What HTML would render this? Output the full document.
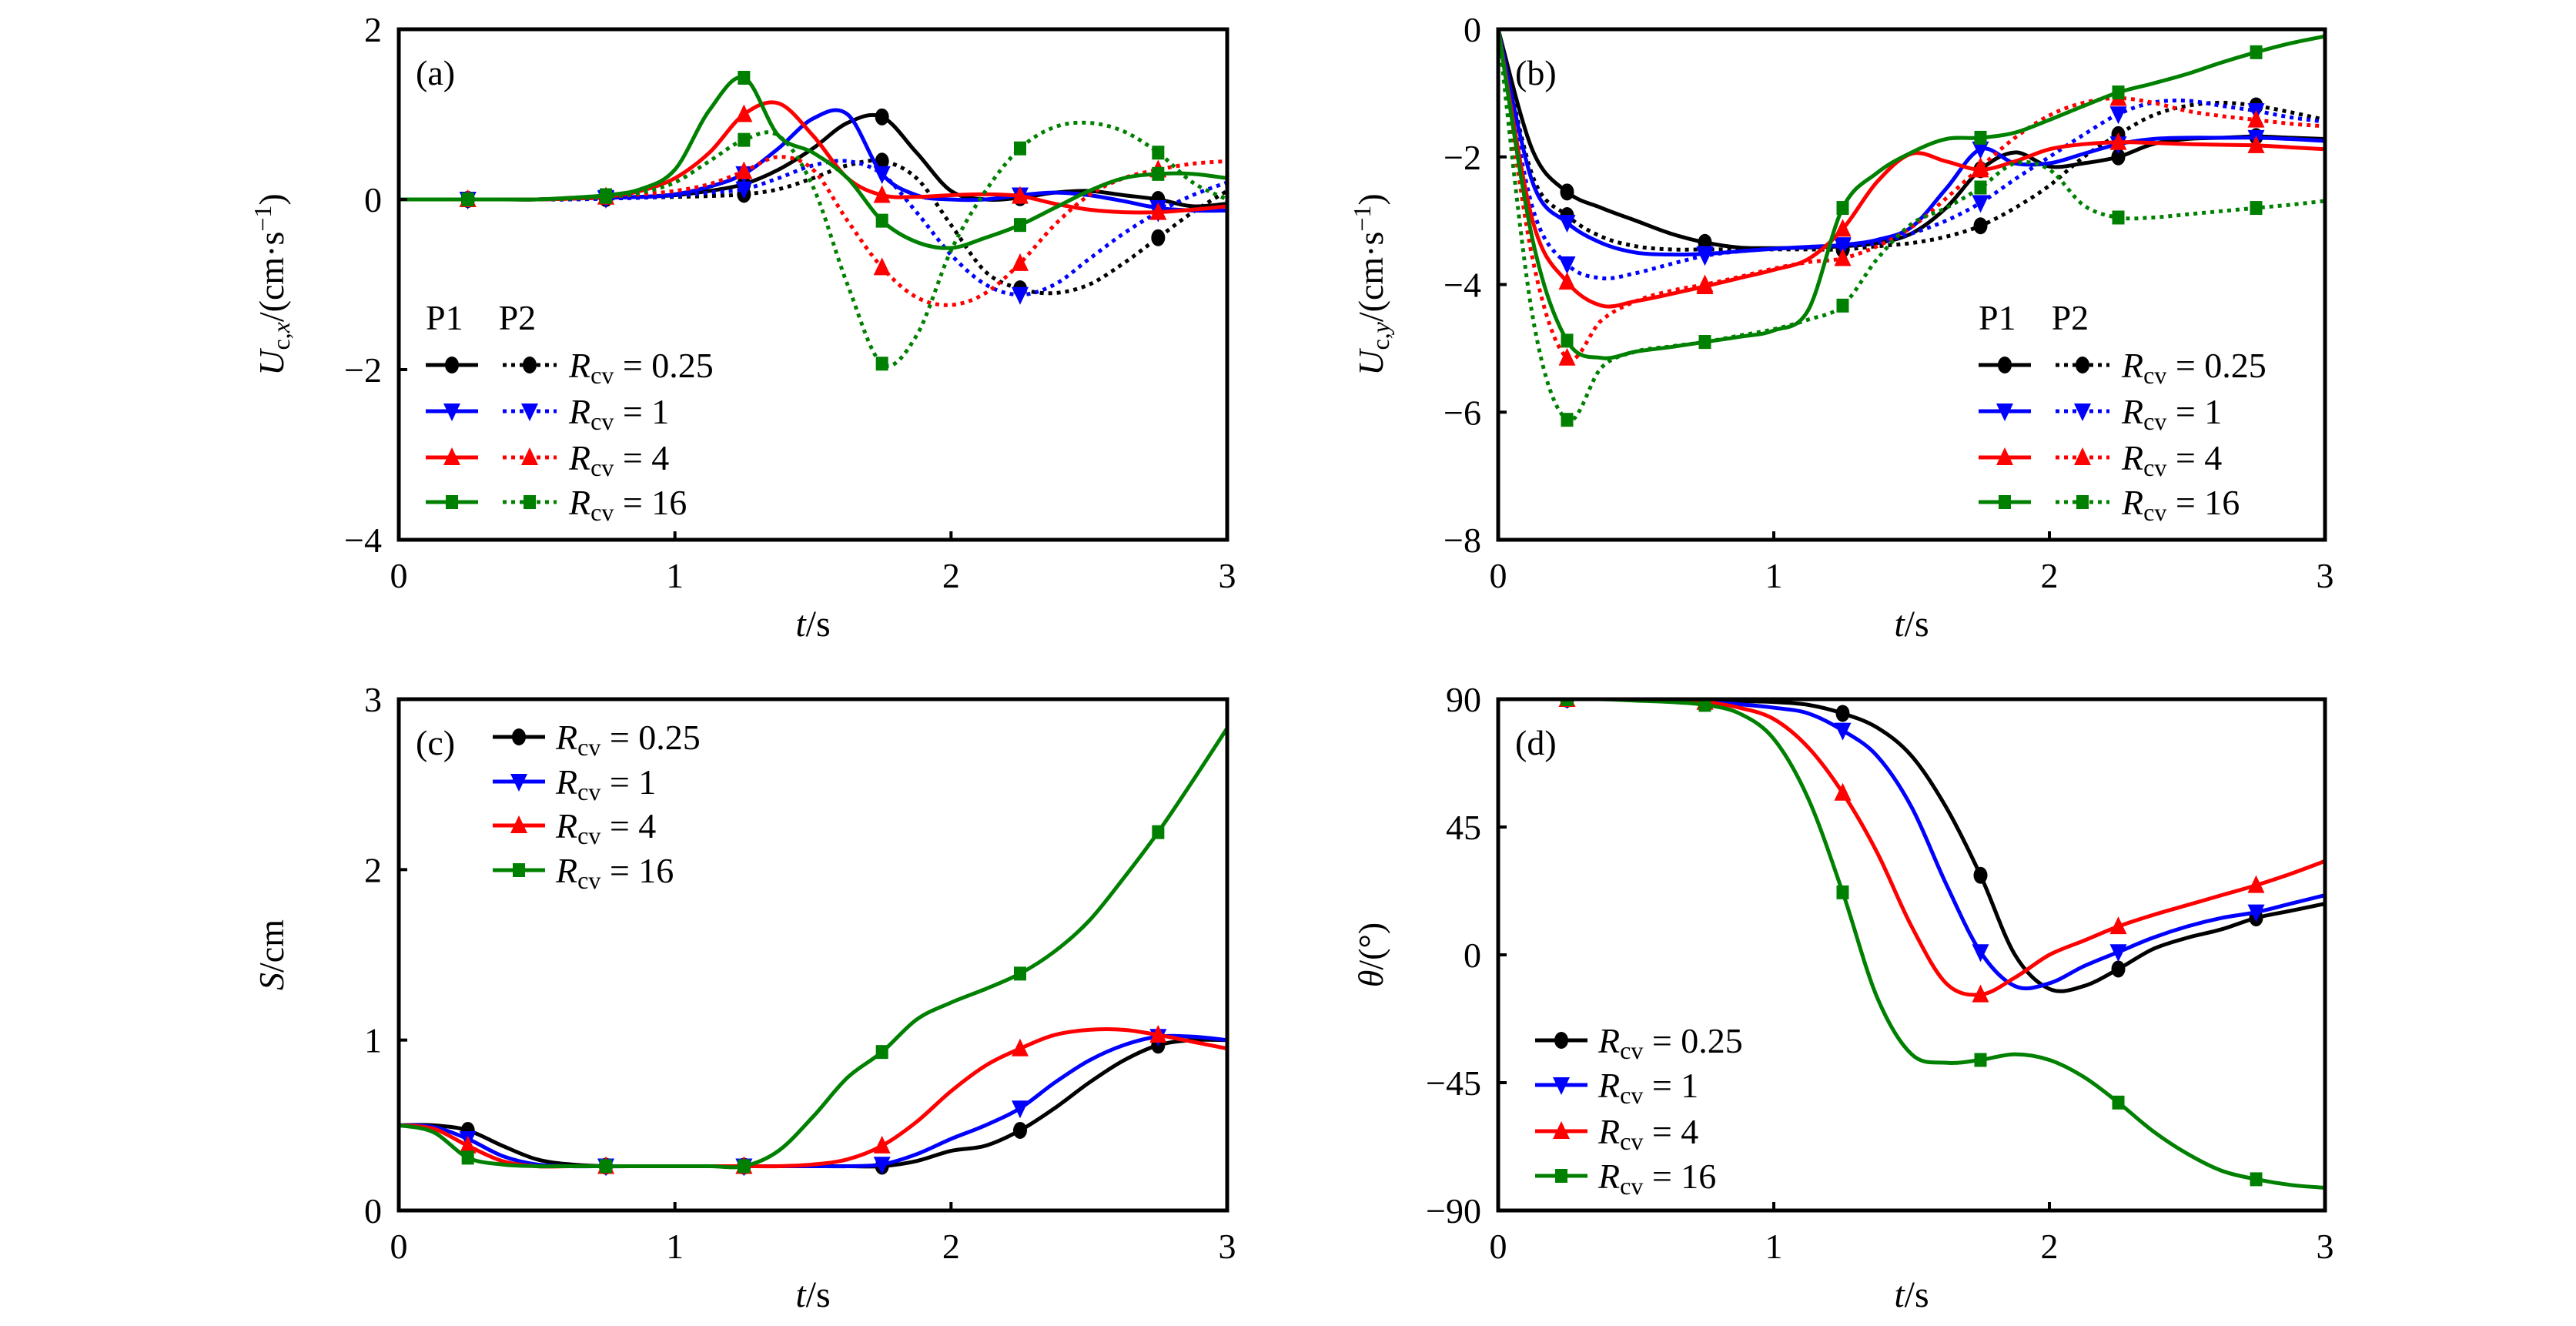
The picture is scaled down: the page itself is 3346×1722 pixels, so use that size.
<!DOCTYPE html>
<html><head><meta charset="utf-8"><style>
html,body{margin:0;padding:0;background:#fff;}
svg{display:block;font-family:"Liberation Serif",serif;}
</style></head><body>
<svg id="fig" width="3346" height="1722" viewBox="0 0 3346 1722" xmlns="http://www.w3.org/2000/svg"></svg>
<script>
const tVals=[0,0.125,0.25,0.375,0.5,0.625,0.75,0.875,1,1.125,1.25,1.375,1.5,1.625,1.75,1.875,2,2.125,2.25,2.375,2.5,2.625,2.75,2.875,3];
const markerIdx=[2,6,10,14,18,22];
// Panel a: Uc,x
const aBlackP1=[0,0,0,0,0,0.01,0.02,0.03,0.05,0.1,0.18,0.35,0.6,0.9,0.97,0.55,0.1,0.0,0.02,0.08,0.1,0.05,0.0,-0.08,-0.05];
const aBlackP2=[0,0,0,0,0,0,0.01,0.02,0.03,0.04,0.06,0.12,0.25,0.4,0.45,0.25,-0.3,-0.85,-1.05,-1.1,-1.0,-0.75,-0.45,-0.15,0.1];
const aBlueP1=[0,0,0,0,0,0.01,0.02,0.03,0.06,0.15,0.3,0.6,0.95,1.0,0.3,0.05,0.0,0.0,0.05,0.08,0.05,-0.02,-0.1,-0.13,-0.13];
const aBlueP2=[0,0,0,0,0,0,0.01,0.02,0.04,0.08,0.12,0.25,0.4,0.45,0.3,-0.15,-0.65,-1.0,-1.12,-1.0,-0.7,-0.4,-0.15,0.05,0.2];
const aRedP1=[0,0,0,0,0,0.01,0.03,0.1,0.25,0.55,1.0,1.13,0.75,0.25,0.05,0.03,0.05,0.06,0.04,-0.05,-0.12,-0.15,-0.15,-0.12,-0.08];
const aRedP2=[0,0,0,0,0,0.01,0.03,0.06,0.1,0.18,0.33,0.5,0.35,-0.25,-0.8,-1.15,-1.24,-1.1,-0.75,-0.3,0.05,0.25,0.35,0.42,0.45];
const aGreenP1=[0,0,0,0,0,0.02,0.05,0.12,0.35,1.05,1.43,0.75,0.55,0.25,-0.25,-0.5,-0.57,-0.45,-0.3,-0.1,0.1,0.25,0.3,0.3,0.25];
const aGreenP2=[0,0,0,0,0,0.01,0.03,0.08,0.2,0.45,0.7,0.75,0.15,-1.0,-1.93,-1.6,-0.6,0.1,0.6,0.85,0.9,0.8,0.55,0.2,0.0];
// Panel b: Uc,y
const bBlackP1=[0,-1.9,-2.55,-2.8,-3.0,-3.2,-3.34,-3.42,-3.43,-3.42,-3.4,-3.35,-3.2,-2.8,-2.2,-1.93,-2.15,-2.1,-2.0,-1.8,-1.72,-1.7,-1.68,-1.7,-1.72];
const bBlackP2=[0,-2.3,-2.92,-3.25,-3.4,-3.45,-3.45,-3.45,-3.45,-3.45,-3.45,-3.4,-3.35,-3.25,-3.08,-2.8,-2.45,-2.0,-1.65,-1.35,-1.2,-1.15,-1.2,-1.3,-1.42];
const bBlueP1=[0,-2.4,-3.03,-3.35,-3.5,-3.53,-3.52,-3.48,-3.44,-3.41,-3.38,-3.3,-3.1,-2.5,-1.88,-2.1,-2.1,-1.95,-1.8,-1.72,-1.7,-1.7,-1.7,-1.72,-1.75];
const bBlueP2=[0,-2.8,-3.68,-3.9,-3.82,-3.68,-3.55,-3.48,-3.44,-3.42,-3.4,-3.35,-3.2,-3.0,-2.72,-2.35,-2.0,-1.65,-1.33,-1.15,-1.12,-1.2,-1.28,-1.38,-1.45];
const bRedP1=[0,-3.0,-3.96,-4.33,-4.26,-4.15,-4.03,-3.9,-3.77,-3.6,-3.13,-2.39,-1.95,-2.07,-2.2,-2.07,-1.88,-1.8,-1.77,-1.78,-1.8,-1.81,-1.82,-1.85,-1.88];
const bRedP2=[0,-3.6,-5.15,-4.56,-4.26,-4.1,-4.0,-3.88,-3.75,-3.65,-3.59,-3.4,-3.1,-2.65,-2.16,-1.7,-1.35,-1.15,-1.08,-1.15,-1.28,-1.36,-1.42,-1.48,-1.52];
const bGreenP1=[0,-3.3,-4.88,-5.15,-5.05,-4.98,-4.9,-4.82,-4.72,-4.4,-2.8,-2.25,-1.93,-1.72,-1.7,-1.62,-1.42,-1.2,-0.99,-0.85,-0.7,-0.52,-0.36,-0.22,-0.11];
const bGreenP2=[0,-4.5,-6.12,-5.3,-5.05,-4.97,-4.9,-4.8,-4.7,-4.55,-4.33,-3.6,-3.05,-2.8,-2.48,-2.1,-2.2,-2.76,-2.95,-2.95,-2.9,-2.85,-2.8,-2.75,-2.69];
// Panel c: S
const cBlack=[0.5,0.5,0.47,0.38,0.3,0.27,0.26,0.26,0.26,0.26,0.26,0.26,0.26,0.26,0.26,0.29,0.35,0.38,0.47,0.6,0.75,0.88,0.97,1.0,1.0];
const cBlue=[0.5,0.49,0.42,0.32,0.27,0.26,0.26,0.26,0.26,0.26,0.26,0.26,0.26,0.26,0.27,0.33,0.42,0.5,0.6,0.75,0.88,0.97,1.02,1.02,1.0];
const cRed=[0.5,0.48,0.38,0.29,0.26,0.26,0.26,0.26,0.26,0.26,0.26,0.26,0.27,0.3,0.38,0.52,0.7,0.85,0.95,1.03,1.06,1.06,1.03,0.99,0.95];
const cGreen=[0.5,0.46,0.31,0.27,0.26,0.26,0.26,0.26,0.26,0.26,0.26,0.35,0.55,0.78,0.93,1.12,1.22,1.3,1.39,1.52,1.7,1.95,2.22,2.52,2.83];
// Panel d: theta
const dBlack=[90,90,90,90,90,89.8,89.5,89.3,89,88,85,80,70,52,28,0,-12,-11,-5,2,6,9,13,15.5,18];
const dBlue=[90,90,90,90,90,89.7,89,88.2,87,85,79,70,52,25,1,-11,-10,-4,1,6,10,13,15,18,21];
const dRed=[90,90,90,90,90,89.7,89,87,83,73,57,36,10,-10,-14,-8,0,5,10,14,17.5,21,24.5,28.5,33];
const dGreen=[90,90,90,90,89.5,89,88,85,76,55,22,-15,-35,-38,-37,-35,-37,-43,-52,-62,-70,-76,-79,-81,-82];

const xTicks=[0,1,2,3];
const aTicks=[-4,-2,0,2];
const bTicks=[-8,-6,-4,-2,0];
const cTicks=[0,1,2,3];
const dTicks=[-90,-45,0,45,90];
const legendLabels=["0.25","1","4","16"];

const NS="http://www.w3.org/2000/svg";
const svg=document.getElementById('fig');
function mk(tag,attrs,parent){const e=document.createElementNS(NS,tag);for(const k in attrs)e.setAttribute(k,attrs[k]);(parent||svg).appendChild(e);return e;}
const COLORS=["#000000","#0000ff","#ff0000","#008000"];
const MARKS=["circle","tri-down","tri-up","square"];

function marker(g,type,x,y,color,name){
  let e;
  if(type==="circle"){e=mk('ellipse',{cx:x,cy:y,rx:9,ry:11,fill:color},g);}
  else if(type==="square"){e=mk('rect',{x:x-8,y:y-9,width:16,height:18,fill:color},g);}
  else if(type==="tri-up"){e=mk('polygon',{points:`${x},${y-13} ${x-11},${y+10} ${x+11},${y+10}`,fill:color},g);}
  else {e=mk('polygon',{points:`${x},${y+13} ${x-11},${y-10} ${x+11},${y-10}`,fill:color},g);}
  
  
  return e;
}
function smoothPath(pts){
  let d=`M${pts[0][0]},${pts[0][1]}`;
  for(let i=0;i<pts.length-1;i++){
    const p0=pts[i-1]||pts[i],p1=pts[i],p2=pts[i+1],p3=pts[i+2]||pts[i+1];
    const c1=[p1[0]+(p2[0]-p0[0])/6,p1[1]+(p2[1]-p0[1])/6];
    const c2=[p2[0]-(p3[0]-p1[0])/6,p2[1]-(p3[1]-p1[1])/6];
    d+=` C${c1[0]},${c1[1]} ${c2[0]},${c2[1]} ${p2[0]},${p2[1]}`;
  }
  return d;
}
function panel(o){
  const g=mk('g',{});
  
  
  const X=t=>o.x0+(t-0)/3*(o.x1-o.x0);
  const Y=v=>o.y1-(v-o.ymin)/(o.ymax-o.ymin)*(o.y1-o.y0);
  const clip='clip-'+o.name;
  const cp=mk('clipPath',{id:clip},g);mk('rect',{x:o.x0,y:o.y0,width:o.x1-o.x0,height:o.y1-o.y0},cp);
  const sg=mk('g',{'clip-path':`url(#${clip})`},g);
  o.series.forEach(s=>{
    const pts=s.data.map((v,i)=>[X(tVals[i]),Y(v)]);
    const p=mk('path',{d:smoothPath(pts),fill:'none',stroke:s.color,'stroke-width':5,'stroke-dasharray':s.dotted?'5 6':'none'},sg);
    
    
    markerIdx.forEach(i=>marker(sg,s.mark,X(tVals[i]),Y(s.data[i]),s.color,s.name+'-marker'));
  });
  const fr=mk('rect',{x:o.x0,y:o.y0,width:o.x1-o.x0,height:o.y1-o.y0,fill:'none',stroke:'#000','stroke-width':5},g);
  
  
  xTicks.forEach(t=>{
    mk('line',{x1:X(t),x2:X(t),y1:o.y1,y2:o.y1-11,stroke:'#000','stroke-width':4},g);
    const tx=mk('text',{x:X(t),y:o.y1+62,'font-size':46,'text-anchor':'middle'},g);tx.textContent=t;
    
    
  });
  o.yTicks.forEach(v=>{
    mk('line',{x1:o.x0,x2:o.x0+11,y1:Y(v),y2:Y(v),stroke:'#000','stroke-width':4},g);
    const tx=mk('text',{x:o.x0-22,y:Y(v)+16,'font-size':46,'text-anchor':'end'},g);tx.textContent=(v<0?'\u2212'+(-v):v);
    
    
  });
  const xt=mk('text',{x:(o.x0+o.x1)/2,y:o.y1+125,'font-size':48,'text-anchor':'middle'},g);
  xt.innerHTML='<tspan font-style="italic">t</tspan>/s';
  
  
  const yt=mk('text',{x:0,y:0,'font-size':46,'text-anchor':'middle',transform:`translate(${o.x0-150},${(o.y0+o.y1)/2}) rotate(-90)`},g);
  yt.innerHTML=o.ytitle;
  
  
  const pl=mk('text',{x:o.x0+22,y:o.y0+72,'font-size':46},g);pl.textContent=o.label;
  
  
  const L=o.legend;
  if(L.header){
    const h=mk('text',{x:L.x,y:L.headerY,'font-size':46},g);h.textContent='P1\u2003P2';
    
    
  }
  legendLabels.forEach((lab,i)=>{
    const y=L.ys[i];
    const lg=mk('g',{},g);
    
    
    mk('line',{x1:L.x,x2:L.x+68,y1:y,y2:y,stroke:COLORS[i],'stroke-width':5},lg);
    marker(lg,MARKS[i],L.x+34,y,COLORS[i],'legend-marker');
    let tx=L.x+82;
    if(L.header){
      mk('line',{x1:L.x+100,x2:L.x+170,y1:y,y2:y,stroke:COLORS[i],'stroke-width':5,'stroke-dasharray':'5 6'},lg);
      marker(lg,MARKS[i],L.x+135,y,COLORS[i],'legend-marker');
      tx=L.x+186;
    }
    const t=mk('text',{x:tx,y:y+16,'font-size':46},lg);
    t.innerHTML=`<tspan font-style="italic">R</tspan><tspan font-size="32" dy="8">cv</tspan><tspan dy="-8"> = ${lab}</tspan>`;
  });
}
panel({name:'panel-a',x0:518,x1:1594,y0:38,y1:701,ymin:-4,ymax:2,yTicks:aTicks,label:'(a)',
  ytitle:'<tspan font-style="italic">U</tspan><tspan font-size="32" dy="8">c,<tspan font-style="italic">x</tspan></tspan><tspan dy="-8">/(cm·s</tspan><tspan font-size="32" dy="-16">−1</tspan><tspan dy="16">)</tspan>',
  legend:{header:true,x:553,headerY:428,ys:[474,534,594,652]},
  series:[
   {name:'a-p1-rcv-0.25',data:aBlackP1,color:COLORS[0],mark:MARKS[0]},{name:'a-p2-rcv-0.25',data:aBlackP2,color:COLORS[0],mark:MARKS[0],dotted:1},
   {name:'a-p1-rcv-1',data:aBlueP1,color:COLORS[1],mark:MARKS[1]},{name:'a-p2-rcv-1',data:aBlueP2,color:COLORS[1],mark:MARKS[1],dotted:1},
   {name:'a-p1-rcv-4',data:aRedP1,color:COLORS[2],mark:MARKS[2]},{name:'a-p2-rcv-4',data:aRedP2,color:COLORS[2],mark:MARKS[2],dotted:1},
   {name:'a-p1-rcv-16',data:aGreenP1,color:COLORS[3],mark:MARKS[3]},{name:'a-p2-rcv-16',data:aGreenP2,color:COLORS[3],mark:MARKS[3],dotted:1}]});
panel({name:'panel-b',x0:1946,x1:3020,y0:38,y1:701,ymin:-8,ymax:0,yTicks:bTicks,label:'(b)',
  ytitle:'<tspan font-style="italic">U</tspan><tspan font-size="32" dy="8">c,<tspan font-style="italic">y</tspan></tspan><tspan dy="-8">/(cm·s</tspan><tspan font-size="32" dy="-16">−1</tspan><tspan dy="16">)</tspan>',
  legend:{header:true,x:2570,headerY:428,ys:[474,534,594,652]},
  series:[
   {name:'b-p1-rcv-0.25',data:bBlackP1,color:COLORS[0],mark:MARKS[0]},{name:'b-p2-rcv-0.25',data:bBlackP2,color:COLORS[0],mark:MARKS[0],dotted:1},
   {name:'b-p1-rcv-1',data:bBlueP1,color:COLORS[1],mark:MARKS[1]},{name:'b-p2-rcv-1',data:bBlueP2,color:COLORS[1],mark:MARKS[1],dotted:1},
   {name:'b-p1-rcv-4',data:bRedP1,color:COLORS[2],mark:MARKS[2]},{name:'b-p2-rcv-4',data:bRedP2,color:COLORS[2],mark:MARKS[2],dotted:1},
   {name:'b-p1-rcv-16',data:bGreenP1,color:COLORS[3],mark:MARKS[3]},{name:'b-p2-rcv-16',data:bGreenP2,color:COLORS[3],mark:MARKS[3],dotted:1}]});
panel({name:'panel-c',x0:518,x1:1594,y0:908,y1:1572,ymin:0,ymax:3,yTicks:cTicks,label:'(c)',
  ytitle:'<tspan font-style="italic">S</tspan>/cm',
  legend:{header:false,x:640,ys:[957,1015,1072,1130]},
  series:[{name:'c-rcv-0.25',data:cBlack,color:COLORS[0],mark:MARKS[0]},{name:'c-rcv-1',data:cBlue,color:COLORS[1],mark:MARKS[1]},
   {name:'c-rcv-4',data:cRed,color:COLORS[2],mark:MARKS[2]},{name:'c-rcv-16',data:cGreen,color:COLORS[3],mark:MARKS[3]}]});
panel({name:'panel-d',x0:1946,x1:3020,y0:908,y1:1572,ymin:-90,ymax:90,yTicks:dTicks,label:'(d)',
  ytitle:'<tspan font-style="italic">θ</tspan>/(°)',
  legend:{header:false,x:1994,ys:[1351,1409,1469,1527]},
  series:[{name:'d-rcv-0.25',data:dBlack,color:COLORS[0],mark:MARKS[0]},{name:'d-rcv-1',data:dBlue,color:COLORS[1],mark:MARKS[1]},
   {name:'d-rcv-4',data:dRed,color:COLORS[2],mark:MARKS[2]},{name:'d-rcv-16',data:dGreen,color:COLORS[3],mark:MARKS[3]}]});
</script>
</body></html>
